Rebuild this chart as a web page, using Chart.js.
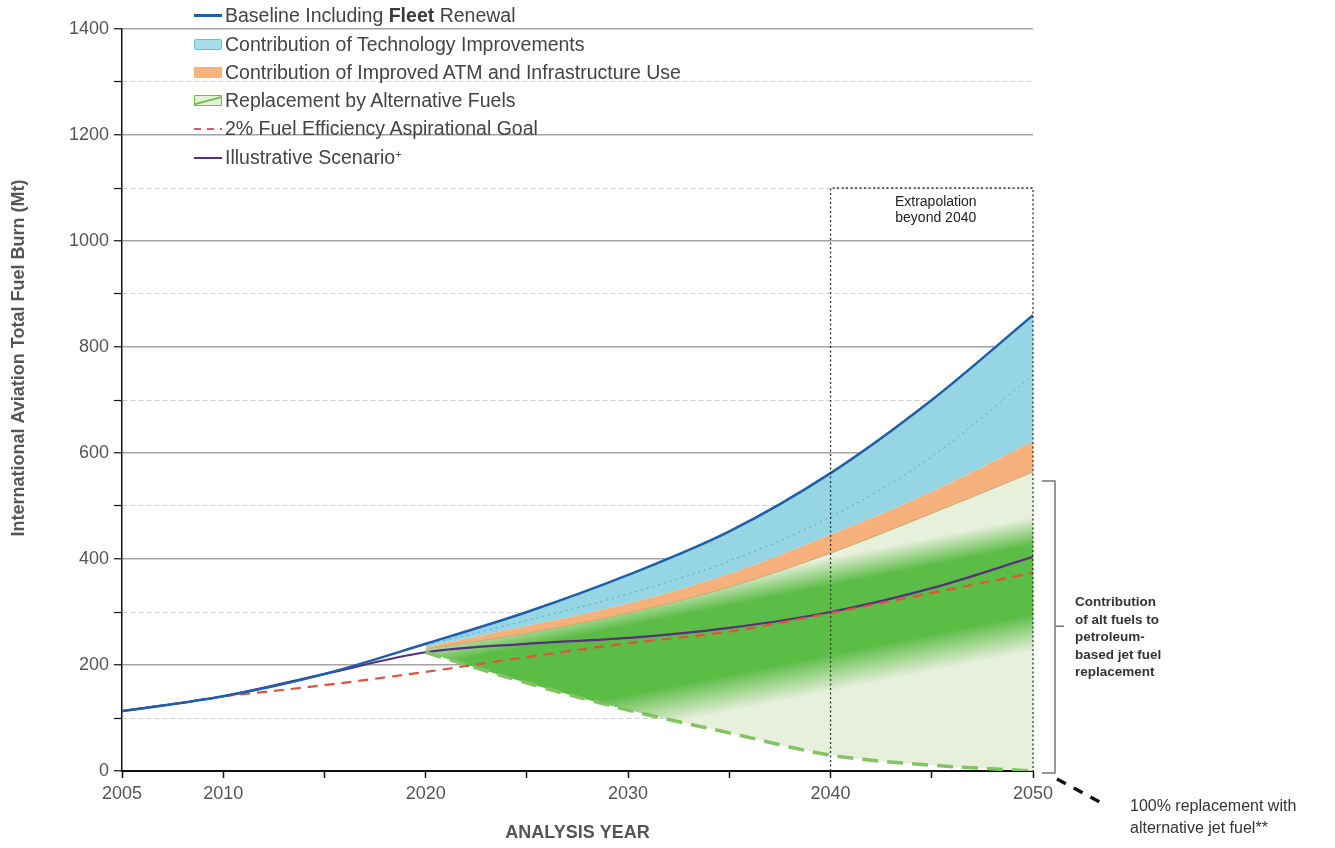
<!DOCTYPE html>
<html lang="en">
<head>
<meta charset="UTF-8">
<title>International Aviation Total Fuel Burn</title>
<script src="https://cdn.jsdelivr.net/npm/chart.js"></script>
<style>
  body { margin: 0; background: #fff; font-family: "Liberation Sans", Arial, sans-serif; }
  #wrap { position: relative; width: 1335px; height: 848px; }
  .item { position: absolute; left: 194px; height: 24px; line-height: 24px; font-size: 19.5px; color: #444; white-space: nowrap; }
  .item b { font-weight: bold; color: #3a3a3a; }
  .sw { display: inline-block; width: 28px; margin-right: 3px; vertical-align: middle; position: relative; top: -1px; box-sizing: border-box; }
  .sw-base { height: 3px; background: #1f5ea8; }
  .sw-tech { height: 11px; background: #a6dde9; border: 1px solid #79b9cf; border-radius: 2px; }
  .sw-atm { height: 11px; background: #f6b27f; }
  .sw-alt { height: 11px; border: 1px solid #6cbf4a; background: linear-gradient(165deg, #e3f1d6 42%, #6cbf4a 48%, #6cbf4a 54%, #e3f1d6 60%); }
  .sw-goal { height: 2px; background: repeating-linear-gradient(90deg, #e05a6e 0 7px, transparent 7px 13px); }
  .sw-scen { height: 2.5px; background: #5a2d88; }
  sup { font-size: 11px; vertical-align: top; position: relative; top: -3px; }
</style>
</head>
<body>
<div id="wrap">
  <canvas id="fuelChart"></canvas>
  <div id="legend">
    <div class="item" style="top:3px"><span class="sw sw-base"></span>Baseline Including <b>Fleet</b> Renewal</div>
    <div class="item" style="top:32px"><span class="sw sw-tech"></span>Contribution of Technology Improvements</div>
    <div class="item" style="top:60px"><span class="sw sw-atm"></span>Contribution of Improved ATM and Infrastructure Use</div>
    <div class="item" style="top:88px"><span class="sw sw-alt"></span>Replacement by Alternative Fuels</div>
    <div class="item" style="top:116px"><span class="sw sw-goal"></span>2% Fuel Efficiency Aspirational Goal</div>
    <div class="item" style="top:145px"><span class="sw sw-scen"></span>Illustrative Scenario<sup>+</sup></div>
  </div>
</div>

<script>
// values (Mt of fuel), one point every 5 years
const years = [2005, 2010, 2015, 2020, 2025, 2030, 2035, 2040, 2045, 2050];
const baseline  = [113, 141, 183, 240, 300, 370, 452, 562, 700, 860];
const techMid   = [null, null, null, 238, 284, 334, 396, 479, 593, 747];
const techFloor = [null, null, null, 234, 274, 316, 372, 446, 527, 622];
const atmFloor  = [null, null, null, 230, 260, 298, 347, 411, 486, 564];
const altFloor  = [null, null, null, 224, 166, 115, 72, 30, 11, 0];
const goal2pct  = [null, 141, 162, 187, 215, 241, 263, 298, 336, 374];
const scenario  = [113, 141, 183, 224, 240, 251, 270, 300, 345, 404];

const xTicks = [2005, 2010, 2015, 2020, 2025, 2030, 2035, 2040, 2045, 2050];
const xTickLabels = [2005, 2010, 2020, 2030, 2040, 2050];

const pts = arr => years.map((yr, i) => ({ x: yr, y: arr[i] }));

// green band: light/dark stripes running slightly uphill
function altFuelGradient(context) {
    const chart = context.chart;
    const { ctx, chartArea, scales } = chart;
    if (!chartArea) return 'rgba(120, 200, 90, 0.5)';
    const x0 = scales.x.getPixelForValue(2040);
    const y0 = scales.y.getPixelForValue(550);
    const g = ctx.createLinearGradient(x0, y0, x0 + 60, y0 + 300);
    const light = 'rgb(231, 240, 219)';
    const dark = 'rgb(92, 189, 70)';
    g.addColorStop(0, light);
    g.addColorStop(0.25, light);
    g.addColorStop(0.34, dark);
    g.addColorStop(0.56, dark);
    g.addColorStop(0.68, light);
    g.addColorStop(1, light);
    return g;
}

const notes = {
    id: 'notes',
    afterDatasetsDraw(chart) {
        const { ctx, scales: { x, y } } = chart;
        const x40 = x.getPixelForValue(2040), x50 = x.getPixelForValue(2050);
        const yTop = y.getPixelForValue(1100), yBot = y.getPixelForValue(0);
        ctx.save();
        ctx.strokeStyle = '#333';
        ctx.lineWidth = 1.3;
        ctx.setLineDash([2, 2.5]);
        ctx.beginPath();
        ctx.moveTo(x40, yBot); ctx.lineTo(x40, yTop);
        ctx.lineTo(x50, yTop); ctx.lineTo(x50, yBot);
        ctx.stroke();
        ctx.setLineDash([]);
        ctx.fillStyle = '#222';
        ctx.font = '14px "Liberation Sans", Arial, sans-serif';
        ctx.textAlign = 'center';
        ctx.textBaseline = 'middle';
        ctx.fillText('Extrapolation', (x40 + x50) / 2 + 4, yTop + 14);
        ctx.fillText('beyond 2040', (x40 + x50) / 2 + 4, yTop + 30);
        ctx.restore();
    },
    afterDraw(chart) {
        const { ctx, scales: { x, y } } = chart;
        const x50 = x.getPixelForValue(2050);
        const y0 = y.getPixelForValue(0);
        ctx.save();

        // y axis title
        ctx.translate(19, 358);
        ctx.rotate(-Math.PI / 2);
        ctx.fillStyle = '#555';
        ctx.font = 'bold 18px "Liberation Sans", Arial, sans-serif';
        ctx.textAlign = 'center';
        ctx.textBaseline = 'middle';
        ctx.fillText('International Aviation Total Fuel Burn (Mt)', 0, 0);
        ctx.setTransform(1, 0, 0, 1, 0, 0);

        // bracket for alt fuel contribution
        const bTop = y.getPixelForValue(547), bBot = y0 + 2;
        const bx = x50 + 22, mid = y.getPixelForValue(273);
        ctx.strokeStyle = '#777';
        ctx.lineWidth = 1.5;
        ctx.beginPath();
        ctx.moveTo(x50 + 9, bTop); ctx.lineTo(bx, bTop); ctx.lineTo(bx, bBot); ctx.lineTo(x50 + 9, bBot);
        ctx.moveTo(bx, mid); ctx.lineTo(bx + 9, mid);
        ctx.stroke();
        ctx.fillStyle = '#333';
        ctx.font = 'bold 13.5px "Liberation Sans", Arial, sans-serif';
        ctx.textAlign = 'left';
        ctx.textBaseline = 'middle';
        ['Contribution', 'of alt fuels to', 'petroleum-', 'based jet fuel', 'replacement']
            .forEach((t, i) => ctx.fillText(t, x50 + 42, mid - 24 + i * 17.5));

        // 100% replacement pointer
        ctx.strokeStyle = '#111';
        ctx.lineWidth = 3.5;
        ctx.setLineDash([10, 9]);
        ctx.beginPath();
        ctx.moveTo(x50 + 24, y0 + 8);
        ctx.lineTo(x50 + 74, y0 + 35);
        ctx.stroke();
        ctx.setLineDash([]);
        ctx.fillStyle = '#333';
        ctx.font = '16px "Liberation Sans", Arial, sans-serif';
        ctx.fillText('100% replacement with', x50 + 97, y0 + 36);
        ctx.fillText('alternative jet fuel**', x50 + 97, y0 + 58);
        ctx.restore();
    }
};

const ctx = document.getElementById('fuelChart').getContext('2d');
new Chart(ctx, {
    type: 'line',
    data: {
        datasets: [{
            label: 'Baseline Including Fleet Renewal',
            data: pts(baseline),
            borderColor: '#1f5ea8',
            borderWidth: 2.5,
            backgroundColor: '#96d6e4',
            fill: { target: 1 }
        }, {
            label: 'Contribution of Technology Improvements',
            data: pts(techFloor),
            borderWidth: 0,
            borderColor: 'rgba(0,0,0,0)',
            backgroundColor: '#f6b07c',
            fill: { target: 2 }
        }, {
            label: 'Contribution of Improved ATM and Infrastructure Use',
            data: pts(atmFloor),
            borderColor: 'rgba(180, 160, 90, 0.7)',
            borderWidth: 1,
            backgroundColor: altFuelGradient,
            fill: { target: 3 }
        }, {
            label: 'Replacement by Alternative Fuels',
            data: pts(altFloor),
            borderColor: '#82c463',
            borderWidth: 3.5,
            borderDash: [16, 9],
            fill: false
        }, {
            label: 'Technology mid case',
            data: pts(techMid),
            borderColor: '#4fa7cc',
            borderWidth: 1,
            borderDash: [2, 4],
            fill: false
        }, {
            label: '2% Fuel Efficiency Aspirational Goal',
            data: pts(goal2pct),
            borderColor: '#e2513f',
            borderWidth: 2.2,
            borderDash: [10, 7],
            fill: false
        }, {
            label: 'Illustrative Scenario+',
            data: pts(scenario),
            borderColor: '#56307f',
            borderWidth: 2.2,
            fill: false
        }]
    },
    options: {
        responsive: true,
        maintainAspectRatio: false,
        animation: false,
        layout: { padding: { left: 0, right: 302, top: 29, bottom: 0 } },
        elements: {
            point: { radius: 0 },
            line: { cubicInterpolationMode: 'monotone' }
        },
        plugins: {
            legend: { display: false },
            tooltip: { enabled: false },
            filler: { drawTime: 'beforeDatasetsDraw' }
        },
        scales: {
            x: {
                type: 'linear',
                min: 2005,
                max: 2050,
                afterBuildTicks: axis => { axis.ticks = xTicks.map(v => ({ value: v })); },
                afterFit: axis => { axis.height = 77; },
                ticks: {
                    autoSkip: false,
                    maxRotation: 0,
                    padding: 5,
                    color: '#555',
                    font: { size: 18 },
                    callback: v => xTickLabels.includes(v) ? String(v) : ''
                },
                grid: { drawOnChartArea: false, drawTicks: true, tickLength: 7, tickColor: '#111', tickWidth: 1.5 },
                border: { color: '#111', width: 2 },
                title: {
                    display: true,
                    text: 'ANALYSIS YEAR',
                    color: '#555',
                    font: { size: 18, weight: 'bold' },
                    padding: { top: 0, bottom: 4 }
                }
            },
            y: {
                min: 0,
                max: 1400,
                afterFit: axis => { axis.width = 122; },
                ticks: {
                    stepSize: 100,
                    autoSkip: false,
                    padding: 5,
                    color: '#555',
                    font: { size: 18 },
                    callback: v => v % 200 === 0 ? v : ''
                },
                grid: {
                    color: c => (c.tick && c.tick.value % 200 !== 0) ? '#cdcdcd' : '#a3a3a3',
                    lineWidth: c => (c.tick && c.tick.value % 200 !== 0) ? 1 : 1.5,
                    tickLength: 8,
                    tickColor: '#111',
                    tickWidth: 1.2
                },
                border: {
                    color: '#111',
                    width: 1.5,
                    dash: c => (c.tick && c.tick.value % 200 !== 0) ? [5, 3] : []
                }
            }
        }
    },
    plugins: [notes]
});
</script>
</body>
</html>
